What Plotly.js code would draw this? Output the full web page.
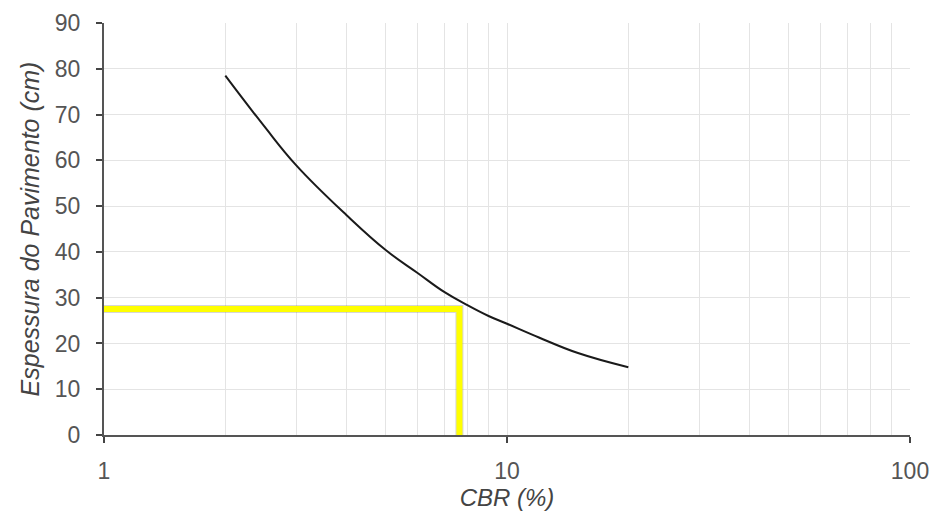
<!DOCTYPE html>
<html>
<head>
<meta charset="utf-8">
<script src="https://cdn.plot.ly/plotly-3.0.1.min.js"></script>
<style>html,body{margin:0;padding:0;background:#fff;}#chart{width:935px;height:519px;}</style>
</head>
<body>
<div id="chart"></div>
<script>
// Curve: pavement thickness (cm) vs CBR (%)
const cbr = [2, 2.5, 3, 4, 5, 6, 7, 8, 9, 10, 12, 15, 20];
const espessura = [78.5, 67.4, 58.9, 48.0, 40.4, 35.4, 31.2, 28.3, 26.0, 24.3, 21.3, 17.9, 14.8];

// Yellow reading guide (design CBR and thickness)
const guideX = [1, 7.62, 7.62];
const guideY = [27.5, 27.5, 0];

const majorTicks = [1, 10, 100];
const majorLabels = ['1', '10', '100'];
const minorTicks = [2, 3, 4, 5, 6, 7, 8, 9, 20, 30, 40, 50, 60, 70, 80, 90];
const yTicks = [0, 10, 20, 30, 40, 50, 60, 70, 80, 90];

const font = 'Liberation Sans, Arial, sans-serif';

const traces = [
  {
    x: guideX, y: guideY, mode: 'lines', type: 'scatter',
    line: {color: 'rgba(120,120,120,0.3)', width: 8},
    hoverinfo: 'skip', showlegend: false, cliponaxis: false
  },
  {
    x: guideX, y: guideY, mode: 'lines', type: 'scatter',
    line: {color: '#ffff00', width: 6},
    showlegend: false, cliponaxis: false
  },
  {
    x: cbr, y: espessura, mode: 'lines', type: 'scatter',
    line: {color: '#1a1a1a', width: 2, shape: 'spline', smoothing: 1.2},
    showlegend: false
  }
];

const layout = {
  width: 935, height: 519,
  margin: {l: 104, r: 25, t: 23, b: 84},
  paper_bgcolor: '#fff', plot_bgcolor: '#fff',
  showlegend: false,
  xaxis: {
    type: 'log', range: [0, 2],
    tickmode: 'array', tickvals: majorTicks, ticktext: majorLabels,
    ticks: 'outside', ticklen: 6, tickwidth: 2, tickcolor: '#444',
    ticklabelstandoff: 8,
    showline: true, linecolor: '#555', linewidth: 2,
    showgrid: true, gridcolor: '#e4e4e4', gridwidth: 1,
    minor: {tickmode: 'array', tickvals: minorTicks, showgrid: true, gridcolor: '#e4e4e4', gridwidth: 1, ticks: ''},
    zeroline: false,
    tickfont: {family: font, size: 23, color: '#555'},
    title: {text: '<i>CBR (%)</i>', font: {family: font, size: 24, color: '#444'}, standoff: 7}
  },
  yaxis: {
    range: [0, 90],
    tickmode: 'array', tickvals: yTicks,
    ticks: 'outside', ticklen: 6, tickwidth: 2, tickcolor: '#444',
    ticklabelstandoff: 11,
    showline: true, linecolor: '#555', linewidth: 2,
    showgrid: true, gridcolor: '#e4e4e4', gridwidth: 1,
    zeroline: false,
    tickfont: {family: font, size: 23, color: '#555'},
    title: {text: '<i>Espessura do Pavimento (cm)</i>', font: {family: font, size: 25, color: '#444'}, standoff: 8}
  }
};

Plotly.newPlot('chart', traces, layout, {displayModeBar: false, staticPlot: true});
</script>
</body>
</html>
